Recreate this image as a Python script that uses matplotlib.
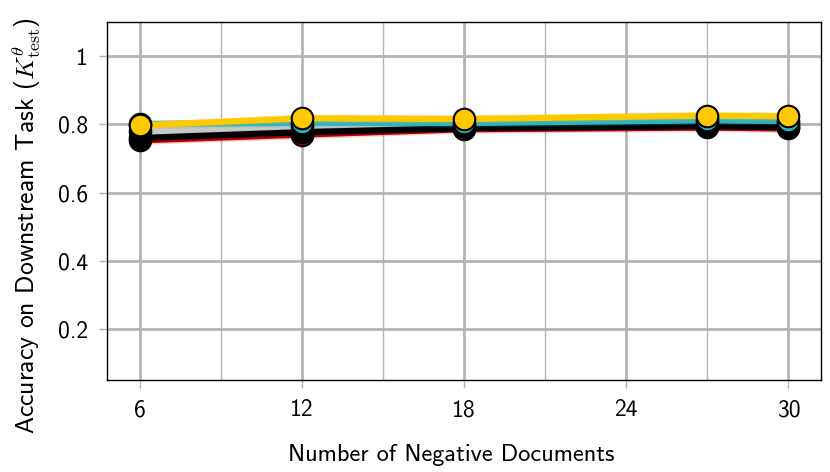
import numpy as np
import matplotlib
matplotlib.use('Agg')
import matplotlib.pyplot as plt
from matplotlib.ticker import MultipleLocator

plt.rcParams['mathtext.fontset'] = 'cm'
plt.rcParams['font.family'] = ['cmss10', 'DejaVu Sans']
plt.rcParams['axes.formatter.use_mathtext'] = False

# Data
neg_docs = [6, 12, 18, 27, 30]
acc_red = [0.753, 0.770, 0.786, 0.791, 0.788]
acc_gray = [0.780, 0.795, 0.798, 0.803, 0.800]
acc_black = [0.760, 0.777, 0.789, 0.795, 0.792]
acc_cyan = [0.801, 0.805, 0.804, 0.812, 0.811]
acc_yellow = [0.797, 0.818, 0.816, 0.826, 0.824]
x_ticks = [6, 12, 18, 24, 30]
y_ticks = [0.2, 0.4, 0.6, 0.8, 1.0]
y_tick_labels = ['0.2', '0.4', '0.6', '0.8', '1']
spread = 0.012

series = [
    (acc_red, '#cc0000'),
    (acc_gray, '#c8c8c8'),
    (acc_black, '#000000'),
    (acc_cyan, '#2bb3c6'),
    (acc_yellow, '#ffc900'),
]

fig, ax = plt.subplots(figsize=(8.3, 4.72), dpi=100)
fig.subplots_adjust(left=0.129, right=0.989, top=0.953, bottom=0.195)

for i, (vals, col) in enumerate(series):
    vals = np.array(vals)
    ax.fill_between(neg_docs, vals - spread, vals + spread, color=col, alpha=0.18,
                    linewidth=0, zorder=2 + i)
    ax.plot(neg_docs, vals, color=col, linewidth=4.5, zorder=3 + i)
for i, (vals, col) in enumerate(series):
    ax.plot(neg_docs, vals, linestyle='none', marker='o', markersize=15.5,
            markerfacecolor=col, markeredgecolor='black', markeredgewidth=1.5,
            zorder=10 + i)

ax.set_xlim(4.8, 31.2)
ax.set_ylim(0.05, 1.1)
ax.set_xticks(x_ticks)
ax.set_xticklabels([str(t) for t in x_ticks])
ax.xaxis.set_minor_locator(MultipleLocator(3))
ax.set_yticks(y_ticks)
ax.set_yticklabels(y_tick_labels)

ax.grid(True, which='major', color='#b4b4b4', linewidth=2, zorder=0)
ax.grid(True, which='minor', axis='x', color='#b4b4b4', linewidth=1, zorder=0)
ax.set_axisbelow(True)
ax.tick_params(which='major', length=6, width=1, color='#b4b4b4', labelsize=17, pad=8)
ax.tick_params(which='minor', length=0)
for s in ax.spines.values():
    s.set_linewidth(1)

ax.set_xlabel('Number of Negative Documents', fontsize=17.5)
ax.xaxis.set_label_coords(0.482, -0.178)
ax.set_ylabel(r'Accuracy on Downstream Task ($K^{\theta}_{\mathrm{test}}$)',
              fontsize=18.5)
ax.yaxis.set_label_coords(-0.09, 0.43)

fig.savefig('out.png', dpi=100)
